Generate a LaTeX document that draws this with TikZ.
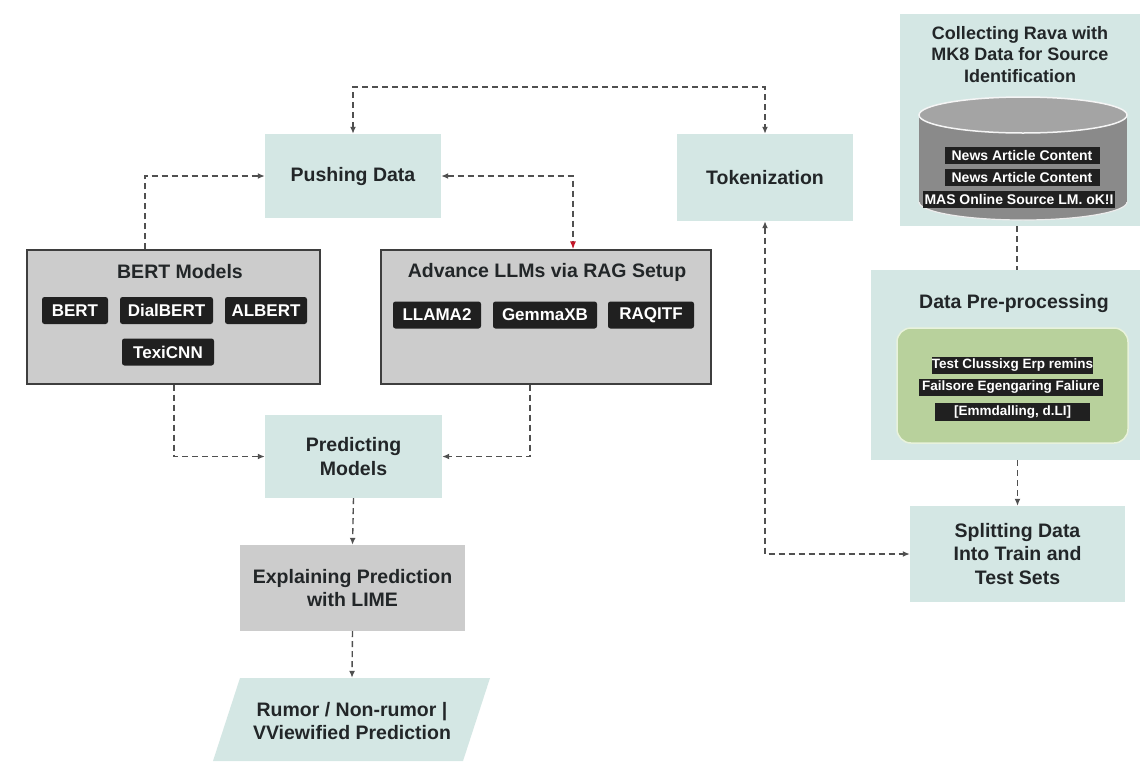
\documentclass[tikz,border=0pt]{standalone}
\usepackage{fontspec}
\setmainfont{Liberation Sans}
\usepackage{xcolor}
\usetikzlibrary{arrows.meta}

\definecolor{tealbox}{RGB}{212,231,228}
\definecolor{grayfill}{RGB}{204,204,204}
\definecolor{grayline}{RGB}{62,62,62}
\definecolor{chipc}{RGB}{32,32,32}
\definecolor{inkc}{RGB}{34,38,40}
\definecolor{linkc}{RGB}{80,80,80}
\definecolor{greenbox}{RGB}{184,209,156}
\definecolor{greenline}{RGB}{232,242,220}
\definecolor{cylbody}{RGB}{138,138,138}
\definecolor{cyltop}{RGB}{164,164,164}
\definecolor{tipred}{RGB}{196,22,40}

\newcommand{\bigtxt}{\fontsize{19.5}{23.5}\selectfont\bfseries}
\newcommand{\chiptxt}{\fontsize{17}{20}\selectfont\bfseries}

\begin{document}
\begin{tikzpicture}[x=1pt, y=-1pt,
  every node/.style={align=center, text=inkc, font=\bigtxt, inner sep=0pt},
  stage/.style={fill=tealbox},
  group/.style={fill=grayfill, draw=grayline, line width=1.2pt},
  chip/.style={fill=chipc, text=white, rounded corners=2.5pt, font=\chiptxt, minimum height=27pt},
  tag/.style={fill=chipc, text=white, font=\fontsize{14}{16}\selectfont\bfseries, minimum height=17pt},
  smalltag/.style={fill=chipc, text=white, font=\fontsize{13.5}{16}\selectfont\bfseries, minimum height=17pt},
  link/.style={draw=linkc, line width=1.4pt, dash pattern=on 6pt off 4pt, >={Latex[length=7pt,width=6pt]}}
]
\fill[white] (0,0) rectangle (1140,761);
\useasboundingbox (0,0) rectangle (1140,761);

\node[stage, minimum width=176, minimum height=84] (push) at (353,176) {Pushing Data};
\node[stage, minimum width=176, minimum height=87] (token) at (765,177.5) {Tokenization};

\node[group, minimum width=293, minimum height=134] (bert) at (173.5,317) {};
\node (bertT) at (180,272) {BERT Models};
\node[chip, minimum width=66] (c1) at (75,310.5) {BERT};
\node[chip, minimum width=93] (c2) at (166.5,310.5) {DialBERT};
\node[chip, minimum width=82] (c3) at (266,310.5) {ALBERT};
\node[chip, minimum width=92] (c4) at (168,352) {TexiCNN};

\node[group, minimum width=330, minimum height=134] (llm) at (546,317) {};
\node (llmT) at (547,272) {Advance LLMs via RAG Setup};
\node[chip, minimum width=88] (l1) at (437,315) {LLAMA2};
\node[chip, minimum width=104] (l2) at (545,315) {GemmaXB};
\node[chip, minimum width=86] (l3) at (651,315) {RAQITF};

\node[stage, minimum width=177, minimum height=83] (pred) at (353.5,456.5) {Predicting\\Models};
\node[fill=grayfill, minimum width=225, minimum height=86] (explain) at (352.5,588) {Explaining Prediction\\with LIME};
\fill[tealbox] (240,678) -- (490,678) -- (463,761) -- (213,761) -- cycle;
\node[minimum width=220, minimum height=86] (result) at (352,721) {Rumor / Non-rumor |\\VViewified Prediction};

\node[stage, minimum width=240, minimum height=212] (collect) at (1020,120) {};
\node[font=\fontsize{18}{21.5}\selectfont\bfseries] (collectT) at (1020,54.5) {Collecting Rava with\\MK8 Data for Source\\Identification};
\fill[cylbody, draw=white!85!gray, line width=1.2pt] (1023,202) ellipse [x radius=104, y radius=18];
\fill[cylbody] (919,115) rectangle (1127,202);
\fill[cyltop, draw=white!92!gray, line width=1.5pt] (1023,115) ellipse [x radius=104, y radius=18];
\node[tag, minimum width=155] (n1) at (1022,155.5) {News Article Content};
\node[tag, minimum width=155] (n2) at (1022,177) {News Article Content};
\node[tag, minimum width=192] (n3) at (1019,199) {MAS Online Source LM. oK!I};

\node[stage, minimum width=269, minimum height=190] (prep) at (1005.5,365) {};
\node (prepT) at (1014,303) {Data Pre-processing};
\node[fill=greenbox, draw=greenline, line width=1.5pt, rounded corners=14pt, minimum width=231, minimum height=115] (prepin) at (1012.5,385.5) {};
\node[smalltag, minimum width=161] (g1) at (1012.5,365) {Test Clussixg Erp remins};
\node[smalltag, minimum width=184] (g2) at (1011,387) {Failsore Egengaring Faliure};
\node[smalltag, minimum width=155, minimum height=18] (g3) at (1012.5,412) {[Emmdalling, d.LI]};

\node[stage, minimum width=215, minimum height=96] (split) at (1017.5,554) {Splitting Data\\Into Train and\\Test Sets};

\draw[link, <->] (push.north) -- ++(0,-47) -| (token.north);
\draw[link, ->] ([xshift=-28.5pt]bert.north) |- (push.west);
\draw[link, {Latex[length=7pt,width=6pt]}-{Latex[length=8pt,width=6pt,color=tipred]}] (push.east) -| ([xshift=27pt]llm.north);
\draw[link, <->] (token.south) |- (split.west);
\draw[link, ->] ([xshift=0.5pt]bert.south) |- (pred.west);
\draw[link, ->] ([xshift=-16pt]llm.south) |- (pred.east);
\draw[link, ->] (pred.south) -- (explain.north);
\draw[link, ->] (explain.south) -- (result.north);
\draw[link] ([xshift=-3pt]collect.south) -- ([xshift=-3pt]collect.south |- prep.north);
\draw[link, ->] (prep.south -| split.north) -- (split.north);
\end{tikzpicture}
\end{document}
